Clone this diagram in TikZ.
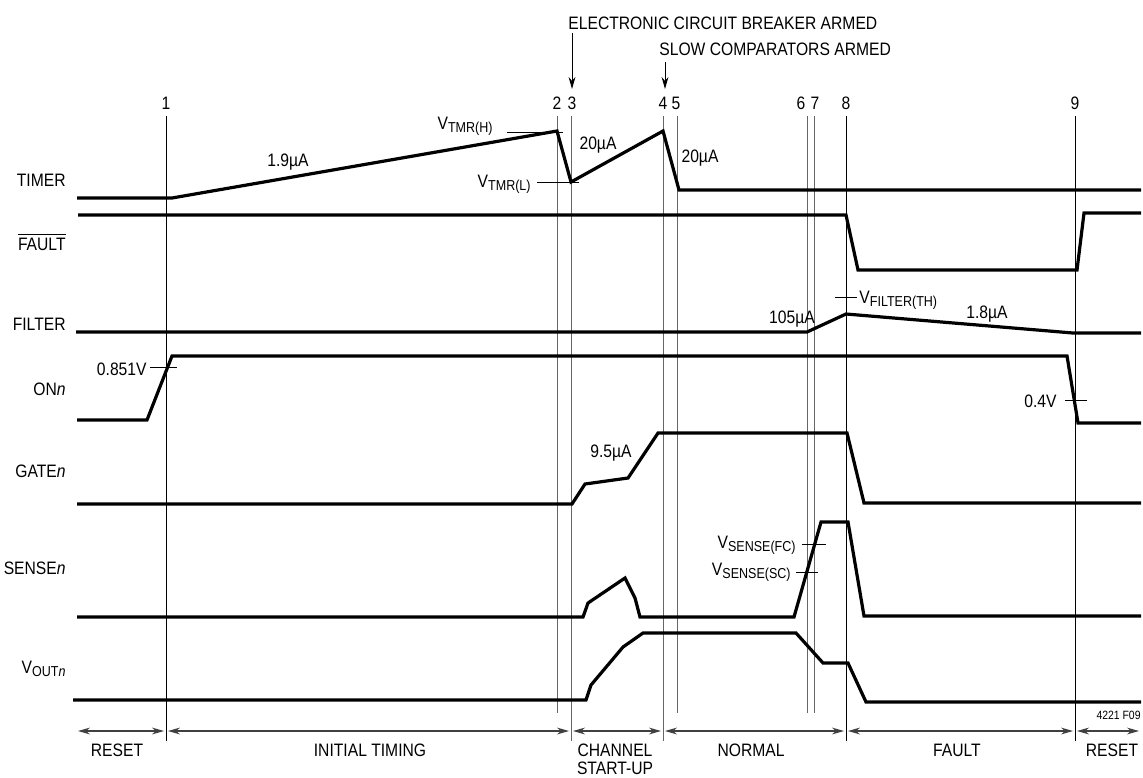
\documentclass[tikz,border=0pt]{standalone}
\usepackage{fontspec}
\setmainfont{Liberation Sans}[FakeStretch=0.87]
\usetikzlibrary{arrows.meta,calc}
\newcommand\subtx[1]{\raisebox{-1.6pt}{\fontsize{7.2}{8}\selectfont #1}}
\tikzset{
  >={Stealth[length=6pt,width=3.4pt]},
  % signale
  sig/.style={line width=1.6pt,line join=miter,miter limit=6},
  sname/.style={anchor=base east,inner sep=0pt},
  val/.style={anchor=base,inner sep=0pt},
  vlbl/.style={anchor=base east,inner sep=0pt},
  tk/.style={line width=0.5pt},
  % zeitachse
  evt/.style={line width=0.5pt},
  num/.style={anchor=base,inner sep=0pt},
  span/.style={<->,draw=black!75,line width=0.6pt,shorten <=1pt,shorten >=1pt},
  phase/.style={anchor=base,inner sep=0pt},
  dn/.style={->,line width=0.5pt},
}
\begin{document}
\begin{tikzpicture}[x=0.5pt,y=-0.5pt,font=\fontsize{9}{10.8}\selectfont]
  \useasboundingbox (0,0) rectangle (1143,777);
  % ereignisse 1..9
  \foreach \x/\nx/\t/\b/\col in {166/166/1/741/black, 557/557/2/713/black!60,
      571/572/3/741/black!60, 663/663/4/741/black!60, 677/676/5/713/black!60,
      807/801/6/713/black!60, 814/815/7/713/black!60, 846/846/8/741/black,
      1075/1075/9/741/black}{
    \coordinate (t\t) at (\x,116); \coordinate (b\t) at (\x,\b);
    \draw[evt,draw=\col] (t\t) -- (b\t);
    \node[num] (n\t) at (\nx,109) {\t};
  }
  \node[anchor=base west,inner sep=0pt] (ecb) at (568,29) {ELECTRONIC CIRCUIT BREAKER ARMED};
  \node[anchor=base west,inner sep=0pt] (slow) at (659,55) {SLOW COMPARATORS ARMED};
  \coordinate (ecbtop) at (572,33); \coordinate (ecbend) at (572,89);
  \coordinate (slowtop) at (665,62); \coordinate (slowend) at (665,89);
  \draw[dn] (ecbtop) -- (ecbend);  \draw[dn] (slowtop) -- (slowend);
  % namen
  \node[sname] (timer) at (66,186) {TIMER};
  \node[sname] (fault) at (66,250) {$\overline{\mbox{FAULT}}$};
  \node[sname] (filter) at (66,330) {FILTER};
  \node[sname] (on) at (66,395) {ON\textit{n}};
  \node[sname] (gate) at (66,477) {GATE\textit{n}};
  \node[sname] (sense) at (66,574) {SENSE\textit{n}};
  \node[sname] (vout) at (66,673) {V\subtx{OUT\textit{n}}};
  % kurven
  \draw[sig] (77,198) -- (172,198) -- (557,131) -- (571,182) -- (663,131)
    -- (679,190) -- (1141,190);
  \draw[sig] (78,215) -- (846,215) -- (858,270) -- (1077,270) -- (1084,213) -- (1141,213);
  \draw[sig] (76,332) -- (807,332) -- (846,314) -- (1073,333) -- (1141,333);
  \draw[sig] (77,420) -- (147,420) -- (172,356) -- (1067,356) -- (1078,423) -- (1141,423);
  \draw[sig] (77,504) -- (572,504) -- (585,484) -- (628,478) -- (658,433) -- (847,433)
    -- (864,503) -- (1141,503);
  \draw[sig] (77,617) -- (583,617) -- (588,603) -- (625,578) -- (635,598) -- (640,617)
    -- (794,617) -- (821,522) -- (848,522) -- (864,616) -- (1141,616);
  \draw[sig] (73,700) -- (586,700) -- (591,685) -- (623,647) -- (643,633) -- (796,633)
    -- (823,663) -- (848,663) -- (866,702) -- (1141,702);
  % werte
  \node[val] (i19) at (288,166) {1.9µA};
  \node[vlbl] (vtmrh) at (493,129) {V\subtx{TMR(H)}};
  \node[vlbl] (vtmrl) at (531,187) {V\subtx{TMR(L)}};
  \draw[tk] (507,132) -- (563,132);  \draw[tk] (537,182) -- (579,182);
  \node[val] (i20a) at (598,149) {20µA};
  \node[val] (i20b) at (700,162) {20µA};
  \node[anchor=base west,inner sep=0pt] (vfil) at (859,303) {V\subtx{FILTER(TH)}};
  \draw[tk] (835,297) -- (857,297);
  \node[val] (i105) at (792,323) {105µA};
  \node[val] (i18) at (987,318) {1.8µA};
  \node[vlbl] (v851) at (147,375) {0.851V};
  \draw[tk] (150,367) -- (177,367);
  \node[vlbl] (v04) at (1057,407) {0.4V};
  \draw[tk] (1065,400) -- (1087,400);
  \node[val] (i95) at (611,457) {9.5µA};
  \node[vlbl] (vfc) at (796,548) {V\subtx{SENSE(FC)}};
  \node[vlbl] (vsc) at (791,575) {V\subtx{SENSE(SC)}};
  \draw[tk] (802,544) -- (826,544);  \draw[tk] (796,572) -- (818,572);
  \node[anchor=base east,inner sep=0pt,font=\fontsize{6}{7}\selectfont] (fig) at (1141,719) {4221 F09};
  % phasen
  \foreach \x/\t in {76/0, 166/1, 571/3, 663/4, 846/8, 1075/9, 1141/10}
    \coordinate (s\t) at (\x,731);
  \draw[span] (s0) -- (s1);  \draw[span] (s1) -- (s3);  \draw[span] (s3) -- (s4);
  \draw[span] (s4) -- (s8);  \draw[span] (s8) -- (s9);  \draw[span] (s9) -- (s10);
  \node[phase] (p1) at (117,756) {RESET};
  \node[phase] (p2) at (370,756) {INITIAL TIMING};
  \node[phase] (p3) at (615,756) {CHANNEL};
  \node[phase] (p3b) at (615,774) {START-UP};
  \node[phase] (p4) at (751,756) {NORMAL};
  \node[phase] (p5) at (957,756) {FAULT};
  \node[phase] (p6) at (1112,756) {RESET};
\end{tikzpicture}
\end{document}
